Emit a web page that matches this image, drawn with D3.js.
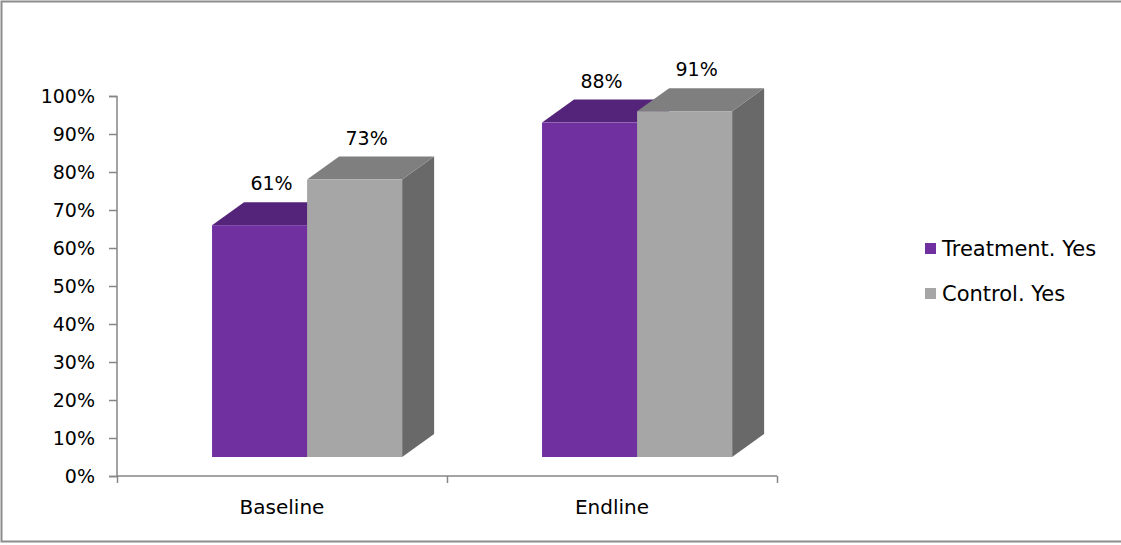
<!DOCTYPE html>
<html>
<head>
<meta charset="utf-8">
<script src="https://cdn.jsdelivr.net/npm/d3@7"></script>
<style>
  body { margin: 0; background: #fff; }
  svg { display: block; font-family: "DejaVu Sans", sans-serif; }
</style>
</head>
<body>
<div id="chart"></div>
<script>
// data
var categories = ['Baseline', 'Endline'];
var seriesNames = ['Treatment. Yes', 'Control. Yes'];
var treatment = [0.61, 0.88];
var control = [0.73, 0.91];
var labels = [['61%', '88%'], ['73%', '91%']];
var yTicks = [0, 0.1, 0.2, 0.3, 0.4, 0.5, 0.6, 0.7, 0.8, 0.9, 1.0];

var W = 1121, H = 545;
var colors = [
  { front: '#7030a0', top: '#54247a', side: '#4a1f6c' },
  { front: '#a6a6a6', top: '#7f7f7f', side: '#696969' }
];
var depth = { dx: 32, dy: -23 };
var floorLift = 19; // front face floor sits above the axis line
var font = '"DejaVu Sans", sans-serif';

var svg = d3.select('#chart').append('svg')
  .attr('width', W).attr('height', H);

// outer border (top, left, bottom)
svg.append('path')
  .attr('d', 'M1121,1.5 H1.5 V541.5 H1121')
  .attr('fill', 'none').attr('stroke', '#8c8c8c').attr('stroke-width', 2);

var x0 = d3.scaleBand().domain(categories).range([117, 777]);
var y = d3.scaleLinear().domain([0, 1]).range([476, 96]);

var barW = x0.bandwidth() * 0.288;
var groupStart = x0.bandwidth() * 0.288;

// y axis
var yAxis = d3.axisLeft(y).tickValues(yTicks).tickSize(8).tickPadding(14)
  .tickFormat(d3.format('.0%'));
var gy = svg.append('g').attr('transform', 'translate(117,0)').call(yAxis);
gy.select('.domain').attr('stroke', '#868686').attr('stroke-width', 1.5)
  .attr('d', 'M-8,96.5H0V476.5H-8');
gy.selectAll('.tick line').attr('stroke', '#868686').attr('stroke-width', 1.5);
gy.selectAll('.tick text').attr('fill', '#000').style('font-size', '19px')
  .style('font-family', font);

// x axis
var xAxis = d3.axisBottom(x0).tickSize(0).tickPadding(24);
var gx = svg.append('g').attr('transform', 'translate(0,476)').call(xAxis);
gx.select('.domain').attr('stroke', '#868686').attr('stroke-width', 1.5)
  .attr('d', 'M117,0V0H777V0');
gx.selectAll('.tick text').attr('fill', '#000').style('font-size', '20px')
  .style('font-family', font);
// category boundary ticks
var bounds = categories.map(function(c) { return x0(c); }).concat([x0.range()[1]]);
gx.selectAll('.bound').data(bounds).enter().append('line')
  .attr('class', 'bound')
  .attr('x1', function(d) { return d + 0.5; }).attr('x2', function(d) { return d + 0.5; })
  .attr('y1', 0).attr('y2', 7)
  .attr('stroke', '#868686').attr('stroke-width', 1.5);

// bars: per category, treatment first, then control (which covers treatment's side)
var series = [treatment, control];
var bars = [];
categories.forEach(function(c, ci) {
  series.forEach(function(vals, si) {
    bars.push({ cat: c, ci: ci, si: si, v: vals[ci], label: labels[si][ci] });
  });
});

var g = svg.append('g');
bars.forEach(function(b) {
  var xl = x0(b.cat) + groupStart + b.si * barW;
  var xr = xl + barW;
  var yb = y(0) - floorLift;
  var yt = y(b.v) - floorLift;
  var col = colors[b.si];
  var bar = g.append('g');
  // side face
  bar.append('path')
    .attr('d', 'M' + xr + ',' + yb + 'L' + (xr + depth.dx) + ',' + (yb + depth.dy) +
      'L' + (xr + depth.dx) + ',' + (yt + depth.dy) + 'L' + xr + ',' + yt + 'Z')
    .attr('fill', col.side);
  // top face
  bar.append('path')
    .attr('d', 'M' + xl + ',' + yt + 'L' + (xl + depth.dx) + ',' + (yt + depth.dy) +
      'L' + (xr + depth.dx) + ',' + (yt + depth.dy) + 'L' + xr + ',' + yt + 'Z')
    .attr('fill', col.top);
  // front face
  bar.append('rect')
    .attr('x', xl).attr('y', yt)
    .attr('width', barW).attr('height', yb - yt)
    .attr('fill', col.front);
  // value label
  bar.append('text')
    .attr('x', xl + barW / 2 + depth.dx / 2 - 4)
    .attr('y', yt + depth.dy - 12)
    .attr('text-anchor', 'middle')
    .style('font-size', '19px')
    .attr('fill', '#000')
    .text(b.label);
});

// legend
var legend = svg.append('g').attr('transform', 'translate(925,243)');
seriesNames.forEach(function(name, i) {
  var row = legend.append('g').attr('transform', 'translate(0,' + (i * 45) + ')');
  row.append('rect').attr('width', 11).attr('height', 11).attr('fill', colors[i].front);
  row.append('text').attr('x', 17).attr('y', 6).attr('dy', '0.35em')
    .style('font-size', '21px').attr('fill', '#000').text(name);
});
</script>
</body>
</html>
